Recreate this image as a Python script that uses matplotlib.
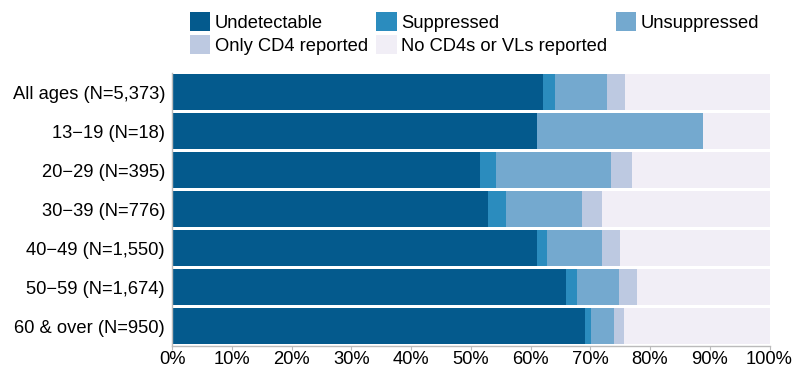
import matplotlib
matplotlib.use("Agg")
import matplotlib.pyplot as plt
from matplotlib.patches import Patch
import numpy as np

plt.rcParams['font.family'] = ['Liberation Sans', 'DejaVu Sans']

# categories, top to bottom
groups = ["All ages (N=5,373)", "13\u221219 (N=18)", "20\u221229 (N=395)",
          "30\u221239 (N=776)", "40\u221249 (N=1,550)", "50\u221259 (N=1,674)",
          "60 & over (N=950)"]

# percent of each group
undetectable = [62.1, 61.1, 51.6, 52.9, 61.1, 65.9, 69.1]
suppressed   = [2.0, 0.0, 2.6, 3.0, 1.7, 1.9, 1.0]
unsuppressed = [8.7, 27.8, 19.2, 12.7, 9.2, 7.0, 3.9]
only_cd4     = [3.0, 0.0, 3.6, 3.4, 3.0, 3.0, 1.6]
no_reports   = [24.2, 11.1, 23.0, 28.0, 25.0, 22.2, 24.4]

series = [("Undetectable", undetectable, "#045a8d"),
          ("Suppressed", suppressed, "#2b8cbe"),
          ("Unsuppressed", unsuppressed, "#74a9cf"),
          ("Only CD4 reported", only_cd4, "#bdc9e1"),
          ("No CD4s or VLs reported", no_reports, "#f1eef6")]

fs = 13.2

fig = plt.figure(figsize=(8.02, 3.65), dpi=100)
ax = fig.add_axes([172/802, 1-345.5/365, 597.5/802, 273/365])

y = np.arange(len(groups))
left = np.zeros(len(groups))
handles = {}
for name, vals, col in series:
    vals = np.array(vals)
    ax.barh(y, vals, left=left, height=0.92, color=col, linewidth=0)
    left += vals
    handles[name] = Patch(facecolor=col, edgecolor='none')

ax.set_ylim(len(groups) - 0.5, -0.5)
ax.set_xlim(0, 100)
ax.set_yticks(y)
ax.set_yticklabels(groups, fontsize=fs)
ax.set_xticks(np.arange(0, 101, 10))
ax.set_xticklabels([f"{v}%" for v in range(0, 101, 10)], fontsize=fs)
ax.tick_params(axis='y', length=0, pad=5)
ax.tick_params(axis='x', length=3, color='#bbbbbb', pad=1)
for s in ['top', 'right']:
    ax.spines[s].set_visible(False)
for s in ['left', 'bottom']:
    ax.spines[s].set_color('#bbbbbb')
    ax.spines[s].set_linewidth(1)

order = ["Undetectable", "Only CD4 reported", "Suppressed",
         "No CD4s or VLs reported", "Unsuppressed"]
fig.legend([handles[n] for n in order], order, ncol=3,
           loc='upper left', bbox_to_anchor=(190/802, 1-12.5/365),
           frameon=False, fontsize=fs, handlelength=1.1, handleheight=1.15,
           handletextpad=0.25, columnspacing=0.47, labelspacing=0.2,
           borderpad=0, borderaxespad=0)

fig.savefig("out.png", dpi=100)
